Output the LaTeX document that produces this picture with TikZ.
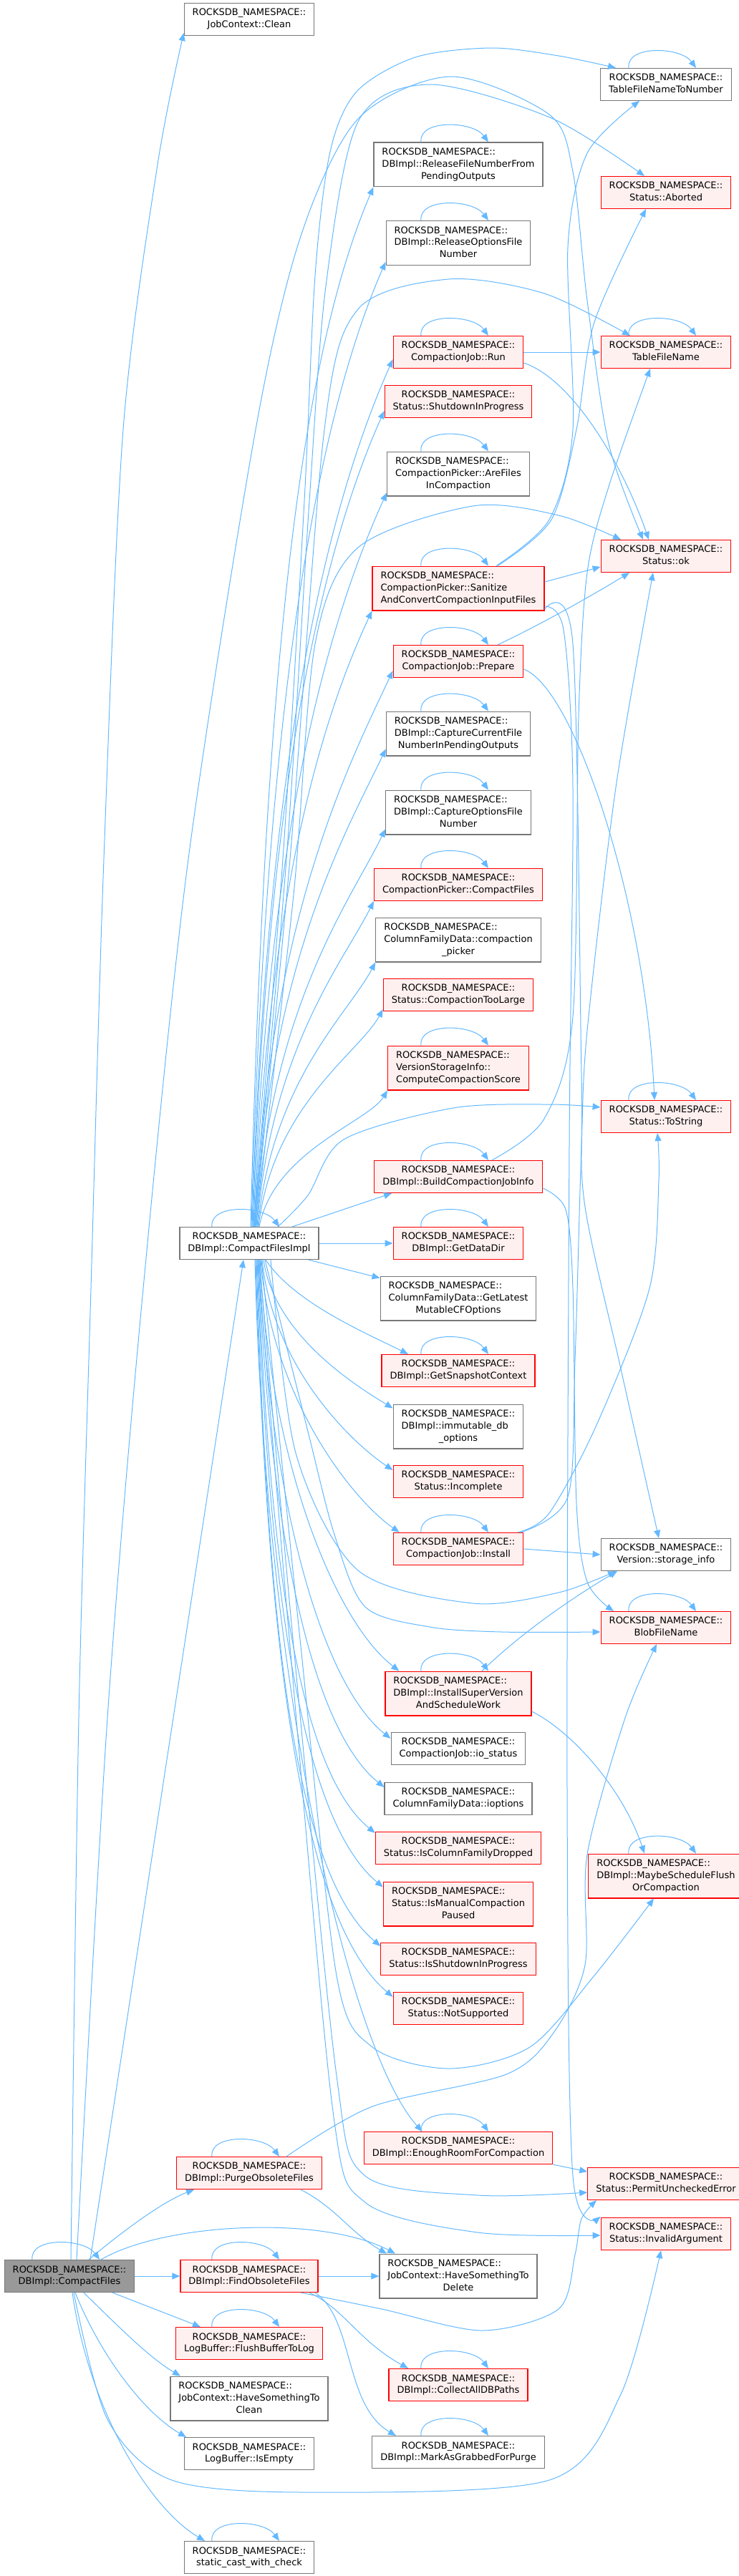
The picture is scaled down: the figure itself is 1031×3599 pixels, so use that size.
\documentclass[tikz,border=0pt]{standalone}
\usepackage{fontspec}
\setmainfont{DejaVu Sans}
\usetikzlibrary{arrows.meta}
\definecolor{edgeblue}{HTML}{63B8FF}
\definecolor{boxgray}{HTML}{777777}
\definecolor{boxred}{HTML}{FF0000}
\definecolor{pinkfill}{HTML}{FFF0F0}
\definecolor{curfill}{HTML}{999999}
\newcommand{\fnl}[1]{\begin{tabular}{@{}c@{}}ROCKSDB\_NAMESPACE::\\#1\end{tabular}}
\newcommand{\fnll}[2]{\begin{tabular}{@{}l@{}}ROCKSDB\_NAMESPACE::\\#1\\\multicolumn{1}{@{}c@{}}{#2}\end{tabular}}

\begin{document}
\begin{tikzpicture}[x=1pt,y=-1pt,
  fn/.style={draw=boxgray,fill=white,line width=1.2pt,inner xsep=11.5pt,inner ysep=5.7pt,font=\fontsize{13}{16.8}\selectfont},
  fnred/.style={fn,draw=boxred,fill=pinkfill},
  fncur/.style={fn,fill=curfill},
  call/.style={draw=edgeblue,line width=1pt,-{Triangle[length=11pt,width=9pt]}}]
\useasboundingbox (0,0) rectangle (1031,3599);

\node[fncur] (cf) at (97,3180) {\fnl{DBImpl::CompactFiles}};
\node[fn] (clean) at (348,27) {\fnl{JobContext::Clean}};
\node[fn] (impl) at (348,1737) {\fnl{DBImpl::CompactFilesImpl}};
\node[fnred] (purge) at (348,3036) {\fnl{DBImpl::PurgeObsoleteFiles}};
\node[fnred] (find) at (348,3180) {\fnl{DBImpl::FindObsoleteFiles}};
\node[fnred] (flush) at (348,3274) {\fnl{LogBuffer::FlushBufferToLog}};
\node[fn] (hstc) at (348,3351) {\fnll{JobContext::HaveSomethingTo}{Clean}};
\node[fn] (isempty) at (348,3428) {\fnl{LogBuffer::IsEmpty}};
\node[fn] (scast) at (348,3573) {\fnl{static\_cast\_with\_check}};

\node[fn] (relfn) at (640,230) {\fnll{DBImpl::ReleaseFileNumberFrom}{PendingOutputs}};
\node[fn] (relopt) at (640,339.5) {\fnll{DBImpl::ReleaseOptionsFile}{Number}};
\node[fnred] (run) at (640,492) {\fnl{CompactionJob::Run}};
\node[fnred] (shutdown) at (640,561) {\fnl{Status::ShutdownInProgress}};
\node[fn] (arefiles) at (640,662) {\fnll{CompactionPicker::AreFiles}{InCompaction}};
\node[fnred] (sanitize) at (640,822) {\fnll{CompactionPicker::Sanitize}{AndConvertCompactionInputFiles}};
\node[fnred] (prepare) at (640,924) {\fnl{CompactionJob::Prepare}};
\node[fn] (capcur) at (640,1025) {\fnll{DBImpl::CaptureCurrentFile}{NumberInPendingOutputs}};
\node[fn] (capopt) at (640,1135) {\fnll{DBImpl::CaptureOptionsFile}{Number}};
\node[fnred] (cpcompact) at (640,1236) {\fnl{CompactionPicker::CompactFiles}};
\node[fn] (cfdpicker) at (640,1313) {\fnll{ColumnFamilyData::compaction}{\_picker}};
\node[fnred] (toolarge) at (640,1390) {\fnl{Status::CompactionTooLarge}};
\node[fnred] (score) at (640,1492) {\fnll{VersionStorageInfo::}{ComputeCompactionScore}};
\node[fnred] (build) at (640,1644) {\fnl{DBImpl::BuildCompactionJobInfo}};
\node[fnred] (datadir) at (640,1737) {\fnl{DBImpl::GetDataDir}};
\node[fn] (mutable) at (640,1814) {\fnll{ColumnFamilyData::GetLatest}{MutableCFOptions}};
\node[fnred] (snapshot) at (640,1915) {\fnl{DBImpl::GetSnapshotContext}};
\node[fn] (immut) at (640,1993) {\fnll{DBImpl::immutable\_db}{\_options}};
\node[fnred] (incomplete) at (640,2070) {\fnl{Status::Incomplete}};
\node[fnred] (install) at (640,2164) {\fnl{CompactionJob::Install}};
\node[fnred] (isv) at (640,2366) {\fnll{DBImpl::InstallSuperVersion}{AndScheduleWork}};
\node[fn] (iostatus) at (640,2443) {\fnl{CompactionJob::io\_status}};
\node[fn] (ioptions) at (640,2513) {\fnl{ColumnFamilyData::ioptions}};
\node[fnred] (cfdropped) at (640,2582) {\fnl{Status::IsColumnFamilyDropped}};
\node[fnred] (manual) at (640,2660) {\fnll{Status::IsManualCompaction}{Paused}};
\node[fnred] (isshut) at (640,2737) {\fnl{Status::IsShutdownInProgress}};
\node[fnred] (notsup) at (640,2806) {\fnl{Status::NotSupported}};
\node[fnred] (enough) at (640,3001) {\fnl{DBImpl::EnoughRoomForCompaction}};
\node[fn] (hstd) at (640,3180) {\fnll{JobContext::HaveSomethingTo}{Delete}};
\node[fnred] (collect) at (640,3332) {\fnl{DBImpl::CollectAllDBPaths}};
\node[fn] (mark) at (640,3426) {\fnl{DBImpl::MarkAsGrabbedForPurge}};

\node[fn] (tfntn) at (930,118) {\fnl{TableFileNameToNumber}};
\node[fnred] (aborted) at (930,269) {\fnl{Status::Aborted}};
\node[fnred] (tfn) at (930,492) {\fnl{TableFileName}};
\node[fnred] (ok) at (930,777) {\fnl{Status::ok}};
\node[fnred] (tostring) at (930,1560) {\fnl{Status::ToString}};
\node[fn] (storage) at (930,2172) {\fnl{Version::storage\_info}};
\node[fnred] (blob) at (930,2274) {\fnl{BlobFileName}};
\node[fnred] (maybe) at (930,2621) {\fnll{DBImpl::MaybeScheduleFlush}{OrCompaction}};
\node[fnred] (permit) at (930,3051) {\fnl{Status::PermitUncheckedError}};
\node[fnred] (invalid) at (930,3121) {\fnl{Status::InvalidArgument}};

\foreach \n in {tfntn,relfn,relopt,run,tfn,arefiles,sanitize,prepare,capcur,capopt,cpcompact,score,tostring,build,impl,datadir,snapshot,install,blob,isv,maybe,enough,purge,cf,find,flush,collect,mark,scast}
  \draw[call] ([xshift=-52pt]\n.north) .. controls +(-4,-32) and +(-22,-30) .. ([xshift=42pt]\n.north);

% CompactFiles
\draw[call] (cf.east) -- (find.west);
\draw[call] ([xshift=29pt]cf.north) -- ([xshift=-8pt]impl.south);
\draw[call] plot[smooth] coordinates {([xshift=2pt]cf.north) (110,2400) (127,1800) (145,1200) (172,600) (220,230) ([yshift=4pt]clean.south west)};
\draw[call] plot[smooth] coordinates {([xshift=10pt]cf.north) (150,2400) (200,1800) (263,1200) (357,600) (420,330) (500,166) (629,107) (767,160) (800,240) (820,420) (850,620) ([xshift=-32pt]ok.north)};
\draw[call] ([xshift=27pt]cf.north) .. controls (180,3110) and (230,3075) .. ([xshift=-77pt]purge.south);
\draw[call] ([xshift=44pt]cf.north) .. controls (230,3105) and (450,3095) .. ([xshift=-88pt]hstd.north);
\draw[call] ([xshift=60pt]cf.south) -- ([xshift=-68pt]flush.north);
\draw[call] ([xshift=20pt]cf.south) .. controls (170,3255) and (210,3295) .. ([xshift=-96pt]hstc.north);
\draw[call] ([xshift=8pt]cf.south) .. controls (140,3290) and (200,3370) .. ([xshift=-88pt]isempty.north);
\draw[call] ([xshift=4pt]cf.south) .. controls (125,3370) and (210,3505) .. ([xshift=-62pt]scast.north);
\draw[call] plot[smooth] coordinates {([xshift=6pt]cf.south) (150,3380) (240,3465) (433,3482) (767,3465) (867,3345) ([xshift=-7pt]invalid.south)};

% FindObsoleteFiles, PurgeObsoleteFiles
\draw[call] (find.east) -- (hstd.west);
\draw[call] ([xshift=84pt]find.south) .. controls (480,3225) and (500,3270) .. ([xshift=-70pt]collect.north);
\draw[call] ([xshift=92pt]find.south) .. controls (495,3240) and (480,3360) .. ([xshift=-87pt]mark.north);
\draw[call] plot[smooth] coordinates {([xshift=72pt]find.south) (533,3226) (673,3256) (780,3226) (803,3150) (812,3100) ([xshift=-97pt]permit.south)};
\draw[call] ([xshift=72pt]purge.south) .. controls (470,3085) and (490,3120) .. ([xshift=-100pt]hstd.north);
\draw[call] plot[smooth] coordinates {([xshift=52pt]purge.north) (520,2943) (707,2898) (773,2840) (817,2745) (820,2591) (873,2400) ([xshift=-13pt]blob.south)};

% CompactFilesImpl, upwards
\draw[call] ([xshift=2pt]impl.north) .. controls +(20,-800) and +(-100,233) .. (relfn.south west);
\draw[call] ([xshift=3pt]impl.north) .. controls +(20,-740) and +(-95,217) .. ([yshift=5pt]relopt.south west);
\draw[call] ([xshift=4pt]impl.north) .. controls +(20,-670) and +(-88,197) .. ([yshift=13pt]run.south west);
\draw[call] ([xshift=5pt]impl.north) .. controls +(20,-630) and +(-83,186) .. ([yshift=10pt]shutdown.south west);
\draw[call] ([xshift=6pt]impl.north) .. controls +(20,-565) and +(-77,169) .. ([yshift=5pt]arefiles.south west);
\draw[call] ([xshift=7pt]impl.north) .. controls +(20,-475) and +(-67,144) .. (sanitize.south west);
\draw[call] ([xshift=8pt]impl.north) .. controls +(20,-430) and +(-62,132) .. ([yshift=10pt]prepare.south west);
\draw[call] ([xshift=9pt]impl.north) .. controls +(20,-370) and +(-55,115) .. ([yshift=10pt]capcur.south west);
\draw[call] ([xshift=10pt]impl.north) .. controls +(20,-310) and +(-48,99) .. ([yshift=8pt]capopt.south west);
\draw[call] ([xshift=11pt]impl.north) .. controls +(20,-250) and +(-42,84) .. (cpcompact.south west);
\draw[call] ([xshift=12pt]impl.north) .. controls +(20,-205) and +(-37,71) .. (cfdpicker.south west);
\draw[call] ([xshift=13pt]impl.north) .. controls +(20,-170) and +(-33,61) .. ([yshift=3pt]toolarge.south west);
\draw[call] ([xshift=14pt]impl.north) .. controls +(20,-105) and +(-27,44) .. (score.south west);
\draw[call] ([xshift=60pt]impl.north) -- ([xshift=-93pt]build.south);
\draw[call] plot[smooth] coordinates {([xshift=6pt]impl.north) (395,1200) (425,700) (440,385) (461,212) (498,128) (580,80) (686,67) (780,78) ([xshift=-70pt]tfntn.north)};
\draw[call] plot[smooth] coordinates {([xshift=7pt]impl.north) (400,1200) (432,700) (455,400) (500,170) (600,118) (770,165) ([xshift=-30pt]aborted.north)};
\draw[call] plot[smooth] coordinates {([xshift=8pt]impl.north) (405,1200) (453,600) (500,432) (627,390) (760,410) ([xshift=-50pt]tfn.north)};
\draw[call] plot[smooth] coordinates {([xshift=9pt]impl.north) (410,1250) (440,900) (500,765) (660,707) (780,720) ([xshift=-63pt]ok.north)};
\draw[call] plot[smooth] coordinates {([xshift=40pt]impl.north) (430,1670) (480,1592) (633,1548) (767,1543) ([yshift=13pt]tostring.west)};

% CompactFilesImpl, downwards
\draw[call] (impl.east) -- (datadir.west);
\draw[call] ([xshift=-15pt]impl.south east) -- ([yshift=-3pt]mutable.north west);
\draw[call] ([xshift=23pt]impl.south) .. controls +(40,60) and +(-60,-30) .. ([xshift=-70pt]snapshot.north);
\draw[call] ([xshift=20pt]impl.south) .. controls +(15,105) and +(-51,-31) .. ([yshift=-6pt]immut.north west);
\draw[call] ([xshift=18pt]impl.south) .. controls +(15,148) and +(-60,-40) .. ([yshift=-7pt]incomplete.north west);
\draw[call] ([xshift=16pt]impl.south) .. controls +(15,191) and +(-68,-48) .. ([xshift=9pt]install.north west);
\draw[call] ([xshift=15pt]impl.south) .. controls +(15,288) and +(-88,-68) .. ([xshift=20pt]isv.north west);
\draw[call] ([xshift=14pt]impl.south) .. controls +(15,335) and +(-97,-77) .. ([yshift=-9pt]iostatus.north west);
\draw[call] ([xshift=13pt]impl.south) .. controls +(15,370) and +(-104,-84) .. ([yshift=-7pt]ioptions.north west);
\draw[call] ([xshift=12pt]impl.south) .. controls +(15,400) and +(-110,-90) .. ([yshift=-2pt]cfdropped.north west);
\draw[call] ([xshift=11pt]impl.south) .. controls +(15,440) and +(-118,-98) .. ([yshift=-8pt]manual.north west);
\draw[call] ([xshift=10pt]impl.south) .. controls +(15,480) and +(-126,-106) .. ([yshift=-5pt]isshut.north west);
\draw[call] ([xshift=9pt]impl.south) .. controls +(15,516) and +(-133,-113) .. ([yshift=-7pt]notsup.north west);
\draw[call] ([xshift=8pt]impl.south) .. controls +(15,610) and +(-100,-110) .. ([xshift=82pt]enough.north west);
\draw[call] plot[smooth] coordinates {([xshift=30pt]impl.south) (413,2030) (500,2194) (660,2240) (780,2225) ([xshift=-70pt]storage.south)};
\draw[call] plot[smooth] coordinates {([xshift=22pt]impl.south) (430,2000) (467,2144) (510,2245) (600,2273) (700,2280) ([yshift=-6pt]blob.west)};
\draw[call] plot[smooth] coordinates {([xshift=17pt]impl.south) (420,2300) (470,2760) (520,2860) (627,2890) (740,2860) (830,2760) ([xshift=-17pt]maybe.south)};
\draw[call] plot[smooth] coordinates {([xshift=14pt]impl.south) (410,2300) (470,2900) (510,3040) (667,3067) ([yshift=-12pt]permit.west)};
\draw[call] plot[smooth] coordinates {([xshift=12pt]impl.south) (405,2300) (465,2950) (510,3077) (667,3119) ([yshift=-2pt]invalid.west)};

% second column to third column
\draw[call] (run.east) -- (tfn.west);
\draw[call] ([yshift=-15pt]run.east) .. controls (800,530) and (870,650) .. ([xshift=-24pt]ok.north);
\draw[call] ([yshift=9pt]sanitize.east) -- ([yshift=-15pt]ok.west);
\draw[call] plot[smooth] coordinates {([xshift=53pt]sanitize.north) (767,726) (800,600) (793,345) (820,214) ([xshift=-37pt]tfntn.south)};
\draw[call] plot[smooth] coordinates {([xshift=55pt]sanitize.north) (770,726) (805,600) (830,450) ([xshift=-28pt]aborted.south)};
\draw[call] plot[smooth] coordinates {([yshift=-25pt]sanitize.east) (787,880) (800,1100) (795,1600) (792,2500) (800,3040) ([yshift=1pt]invalid.north west)};
\draw[call] plot[smooth] coordinates {([yshift=-29pt]sanitize.east) (800,900) (812,1500) (816,1679) (866,1908) ([xshift=-10pt]storage.north)};
\draw[call] ([xshift=55pt]prepare.north) .. controls (760,870) and (830,830) .. ([xshift=-51pt]ok.south);
\draw[call] ([yshift=-11pt]prepare.east) .. controls (800,960) and (900,1250) .. ([xshift=-16pt]tostring.north);
\draw[call] plot[smooth] coordinates {([xshift=47pt]build.north) (760,1563) (800,1420) (808,1000) (820,800) (850,680) ([xshift=-22pt]tfn.south)};
\draw[call] plot[smooth] coordinates {([yshift=-16pt]build.east) (790,1690) (800,1800) (805,2100) (820,2210) ([xshift=-73pt]blob.north)};
\draw[call] (install.east) -- (storage.west);
\draw[call] plot[smooth] coordinates {([xshift=87pt]install.north) (793,2091) (803,1900) (812,1600) (820,1440) (860,1100) ([xshift=-18pt]ok.south)};
\draw[call] plot[smooth] coordinates {([xshift=83pt]install.north) (767,2114) (833,1991) (907,1800) (920,1650) ([xshift=-12pt]tostring.south)};
\draw[call] ([xshift=33pt]isv.north) .. controls (740,2270) and (820,2220) .. ([xshift=-68pt]storage.south);
\draw[call] ([yshift=-25pt]isv.east) .. controls (800,2420) and (870,2500) .. ([xshift=-30pt]maybe.north);
\draw[call] (enough.south east) -- ([yshift=17pt]permit.west);
\end{tikzpicture}
\end{document}
